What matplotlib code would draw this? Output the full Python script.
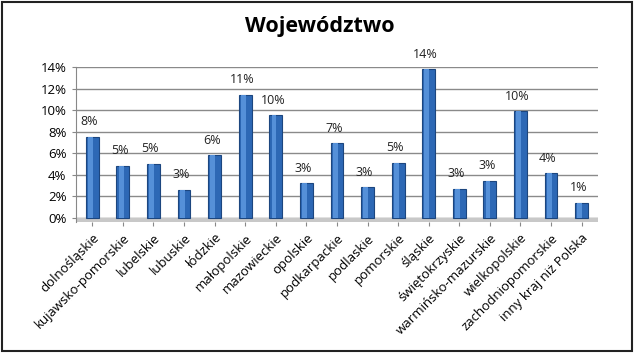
import matplotlib.pyplot as plt
from matplotlib.patches import Rectangle
from matplotlib.ticker import FuncFormatter
import numpy as np

categories = ["dolnośląskie", "kujawsko-pomorskie", "lubelskie", "lubuskie", "łódzkie",
              "małopolskie", "mazowieckie", "opolskie", "podkarpackie", "podlaskie",
              "pomorskie", "śląskie", "świętokrzyskie", "warmińsko-mazurskie",
              "wielkopolskie", "zachodniopomorskie", "inny kraj niż Polska"]
values = [7.5, 4.8, 5.0, 2.6, 5.8, 11.4, 9.5, 3.2, 6.9, 2.8, 5.1, 13.8, 2.7, 3.4, 9.9, 4.1, 1.4]
labels = ["8%", "5%", "5%", "3%", "6%", "11%", "10%", "3%", "7%", "3%", "5%", "14%",
          "3%", "3%", "10%", "4%", "1%"]

plt.rcParams["font.family"] = ["Open Sans", "DejaVu Sans"]

fig = plt.figure(figsize=(6.4, 3.53), dpi=100)
ax = fig.add_axes([0.118, 0.37, 0.817, 0.44])

x = np.arange(len(categories))

# floor and grid
ax.axhspan(-0.45, 0, color="#c8c8c8", zorder=1)
for v in range(0, 15, 2):
    ax.axhline(v, color="#8a8a8a", linewidth=1.0, zorder=0)

# bars with a lighter strip to hint the cylinder shading
ax.bar(x, values, width=0.42, color="#2d68b5", edgecolor="#1c467f", linewidth=0.8, zorder=2)
ax.bar(x - 0.06, values, width=0.16, color="#5590d8", linewidth=0, zorder=3)

for xi, v, lab in zip(x, values, labels):
    ax.text(xi - 0.1, v + 0.8, lab, ha="center", va="bottom", fontsize=9, color="#222222")

ax.set_xlim(-0.55, len(categories) - 0.45)
ax.set_ylim(-0.45, 14)
ax.set_yticks(range(0, 15, 2))
ax.yaxis.set_major_formatter(FuncFormatter(lambda v, p: f"{v:.0f}%"))
ax.set_xticks(x)
ax.set_xticklabels(categories, rotation=45, ha="right", rotation_mode="anchor", fontsize=9.5)
ax.tick_params(axis="y", labelsize=9.5, length=3, color="#888888")
ax.tick_params(axis="x", length=3, color="#888888")

for s in ["top", "right", "bottom"]:
    ax.spines[s].set_visible(False)
ax.spines["left"].set_color("#888888")

fig.text(0.5, 0.925, "Województwo", ha="center", va="center", fontsize=15.5, fontweight="bold")

# outer chart frame
fig.patches.append(Rectangle((0.003, 0.005), 0.985, 0.99, transform=fig.transFigure,
                             fill=False, edgecolor="#222222", linewidth=1.5))

fig.savefig("out.png", dpi=100)
